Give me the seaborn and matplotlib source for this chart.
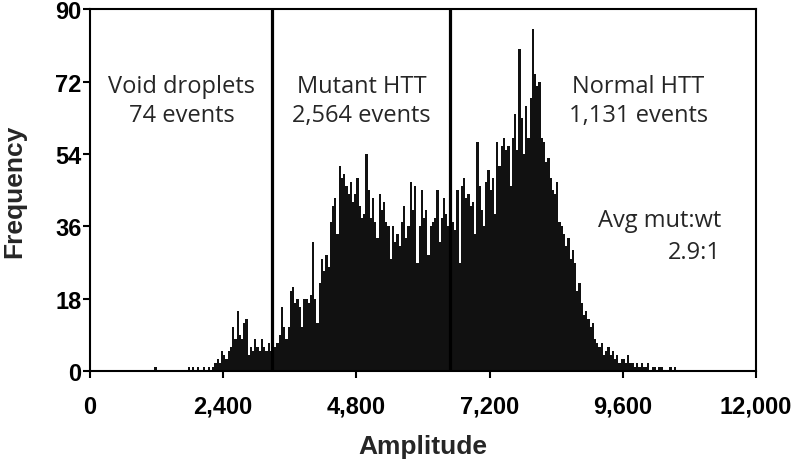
import matplotlib
matplotlib.use('Agg')
import matplotlib.pyplot as plt
import numpy as np
import pandas as pd
import seaborn as sns

# histogram bins: width 40, first bin starts at 1160
bin_start = 1160
bin_width = 40

# counts per bin, void droplet region (1160 - 3240)
void_counts = [
    1, 0, 0, 0, 0, 0, 0, 0, 0, 0,
    0, 0, 0, 0, 0, 1, 0, 1, 0, 1,
    0, 0, 1, 0, 1, 0, 1, 2, 3, 2,
    5, 4, 3, 5, 6, 11, 8, 15, 9, 8,
    12, 13, 4, 6, 5, 8, 6, 5, 8, 6,
    5, 7, 5,
]
# mutant HTT region (3280 - 6440)
mutant_counts = [
    9, 6, 7, 9, 16, 11, 8, 11, 20, 21,
    17, 18, 16, 11, 18, 18, 17, 19, 32, 18,
    12, 22, 28, 25, 29, 26, 37, 41, 43, 34,
    51, 48, 49, 46, 44, 47, 42, 44, 48, 41,
    38, 39, 54, 45, 38, 43, 37, 33, 44, 40,
    42, 37, 36, 28, 36, 32, 34, 31, 37, 41,
    33, 36, 47, 40, 46, 27, 36, 45, 38, 40,
    29, 36, 37, 38, 45, 32, 38, 43, 39, 36,
]
# normal HTT region (6480 - 10520)
normal_counts = [
    35, 37, 35, 45, 27, 46, 48, 43, 44, 41,
    42, 34, 57, 46, 40, 36, 47, 50, 45, 48,
    39, 57, 51, 56, 58, 55, 56, 46, 58, 64,
    55, 80, 63, 54, 66, 58, 68, 85, 74, 71,
    72, 58, 57, 52, 53, 48, 45, 44, 47, 37,
    36, 34, 31, 33, 28, 30, 27, 20, 22, 17,
    14, 15, 13, 11, 12, 8, 7, 6, 7, 4,
    5, 6, 4, 5, 3, 4, 2, 3, 3, 2,
    4, 2, 2, 1, 2, 1, 2, 1, 1, 2,
    0, 1, 1, 0, 1, 1, 0, 0, 0, 1,
    0, 1,
]

thresholds = [3275, 6480]
region_labels = ['Void droplets\n74 events', 'Mutant HTT\n2,564 events', 'Normal HTT\n1,131 events']
region_x = [1650, 4890, 9880]
ratio_label = 'Avg mut:wt\n2.9:1'

x_ticks = [0, 2400, 4800, 7200, 9600, 12000]
x_ticklabels = ['0', '2,400', '4,800', '7,200', '9,600', '12,000']
y_ticks = [0, 18, 36, 54, 72, 90]

counts = np.array(void_counts + mutant_counts + normal_counts)
edges = bin_start + bin_width * np.arange(len(counts) + 1)
df = pd.DataFrame({'amplitude': (edges[:-1] + edges[1:]) / 2, 'count': counts})

sns.set_style('ticks')
plt.rcParams['font.family'] = ['Liberation Sans', 'DejaVu Sans']

fig = plt.figure(figsize=(7.92, 4.64), dpi=100)
ax = fig.add_axes([0.1136, 0.198, 0.841, 0.780])

sns.histplot(data=df, x='amplitude', weights='count',
             binwidth=bin_width, binrange=(edges[0], edges[-1]),
             color='#111111', alpha=1, linewidth=0, ax=ax)

for t in thresholds:
    ax.axvline(t, color='black', linewidth=2.3)

# annotation text (humanist sans, like the original)
for lx, lab in zip(region_x, region_labels):
    ax.text(lx, 67.3, lab, ha='center', va='center', fontsize=17, linespacing=1.3,
            family=['Open Sans', 'DejaVu Sans'])
ax.text(11370, 33.6, ratio_label, ha='right', va='center', fontsize=17,
        linespacing=1.45, multialignment='right', family=['Open Sans', 'DejaVu Sans'])

ax.set_xlim(0, 12000)
ax.set_ylim(0, 90)
ax.set_xticks(x_ticks)
ax.set_xticklabels(x_ticklabels)
ax.set_yticks(y_ticks)
for lab in ax.get_xticklabels() + ax.get_yticklabels():
    lab.set_fontweight('bold')
    lab.set_fontsize(17)
ax.tick_params(axis='both', direction='out', length=5, width=1.5, colors='black')
ax.tick_params(axis='x', pad=12)
ax.tick_params(axis='y', pad=1)
ax.set_xlabel('Amplitude', fontsize=19, fontweight='bold', labelpad=12)
ax.set_ylabel('Frequency', fontsize=19, fontweight='bold', labelpad=21)
for s in ax.spines.values():
    s.set_visible(True)
    s.set_linewidth(1.5)
    s.set_color('black')

fig.savefig('out.png', dpi=100)
